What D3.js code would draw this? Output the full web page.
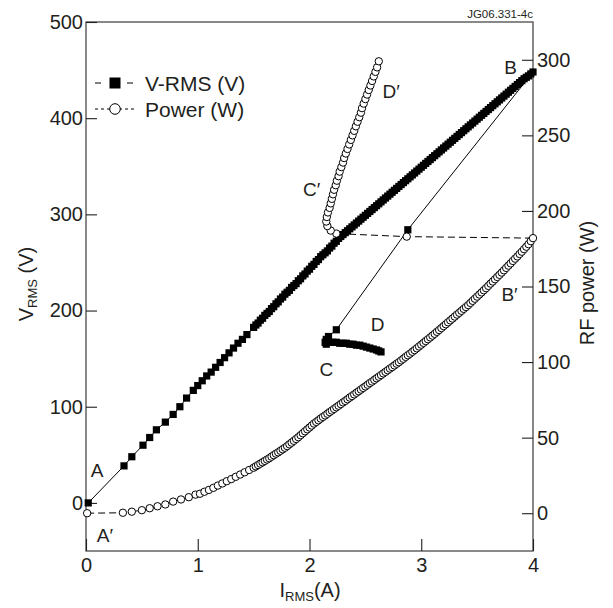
<!DOCTYPE html>
<html><head><meta charset="utf-8">
<script src="https://cdn.jsdelivr.net/npm/d3@7"></script>
<style>
html,body{margin:0;padding:0;background:#fff;}
svg text{font-family:"Liberation Sans",Arial,Helvetica,sans-serif;fill:#231f20;}
</style></head>
<body>
<svg id="chart" width="613" height="608"></svg>
<script>
// ---- data ----
// shared current grid of the densely sampled ramp (A)
const denseI = [1.50,1.52,1.54,1.56,1.58,1.60,1.62,1.64,1.66,1.68,1.70,1.72,1.74,1.76,1.78,1.80,1.82,1.84,1.86,1.88,
  1.90,1.92,1.94,1.96,1.98,2.00,2.02,2.04,2.06,2.08,2.10,2.12,2.14,2.16,2.18,2.20,2.22,2.24,2.26,2.28,
  2.30,2.32,2.34,2.36,2.38,2.40,2.42,2.44,2.46,2.48,2.50,2.52,2.54,2.56,2.58,2.60,2.62,2.64,2.66,2.68,
  2.70,2.72,2.74,2.76,2.78,2.80,2.82,2.84,2.86,2.88,2.90,2.92,2.94,2.96,2.98,3.00,3.02,3.04,3.06,3.08,
  3.10,3.12,3.14,3.16,3.18,3.20,3.22,3.24,3.26,3.28,3.30,3.32,3.34,3.36,3.38,3.40,3.42,3.44,3.46,3.48,
  3.50,3.52,3.54,3.56,3.58,3.60,3.62,3.64,3.66,3.68,3.70,3.72,3.74,3.76,3.78,3.80,3.82,3.84,3.86,3.88,
  3.90,3.92,3.94,3.96,3.98,4.00];

// V-RMS series (V), order A -> B -> C -> D
const vStartI = [0.02,0.34,0.41,0.51,0.57,0.63,0.71,0.78,0.84,0.90,0.96,1.00,1.04,1.08,1.12,1.16,1.20,1.24,1.28,1.32,1.36,1.40,1.44];
const vStartV = [0,38.5,48,60,68,76,84,92,100,109,117,122,127,132,136,141,146,151,156,161,166,170,175];
const vDenseV = [182.5,185,187,190,192,195,197,199,202,204,207,209,212,214,217,219,221,224,226,228,
  231,233,236,238,241,243,246,248,251,253,256,258,260,262,265,267,270,272,275,277,
  279,281,283,285,287,289,291,293,295,297,299,301,303,305,307,309,311,313,315,317,
  319,321,323,325,327,329,331,333,335,337,339,341,343,345,347,349,351,353,355,357,
  359,361,363,365,367,369,371,373,375,377,379,381,383,385,387,389,391,393,395,397,
  399,401,403,405,407,409,411,413,415,417,419,421,423,425,427,429,431,433,435,437,
  439,441,442.5,444,446,448];
const vEndI = [2.88,2.24,2.17,2.15,2.14,2.15,2.18,2.21,2.24,2.27,2.30,2.33,2.36,2.39,2.42,2.45,2.48,2.51,2.54,2.57,2.60,2.62,2.64];
const vEndV = [284,180,173,170,167,165,167,167,167,166,166,166,165,165,164,164,163,162,161,160,159,158,157];

// Power series (W), order A' -> B' -> C' -> D'
const pStartI = [0.01,0.33,0.41,0.50,0.57,0.64,0.71,0.78,0.85,0.92,0.98,1.02,1.06,1.10,1.14,1.18,1.22,1.26,1.30,1.34,1.38,1.42,1.46];
const pStartW = [0,0.3,1.0,2.0,3.3,4.6,5.8,7.7,9.1,10.6,12.3,12.9,14.2,15.4,16.8,18.3,19.7,21.2,22.6,24.1,25.6,27.1,28.6];
const pDenseW = [30.1,31.0,31.9,32.8,33.7,34.6,35.5,36.4,37.4,38.4,39.4,40.3,41.3,42.3,43.3,44.4,45.6,46.7,47.9,49.1,
  50.3,51.6,52.9,54.2,55.5,56.7,58.0,59.3,60.4,61.5,62.6,63.7,64.7,65.8,66.9,67.9,69.0,70.1,71.1,72.2,
  73.3,74.3,75.4,76.5,77.5,78.6,79.7,80.7,81.8,82.9,83.9,85.0,86.1,87.1,88.2,89.3,90.3,91.4,92.5,93.5,
  94.6,95.7,96.7,97.8,98.9,99.9,101.1,102.2,103.4,104.5,105.6,106.8,107.9,109.1,110.3,111.5,112.7,113.9,115.1,116.3,
  117.5,118.7,120.0,121.2,122.5,123.8,125.0,126.3,127.6,128.8,130.1,131.4,132.6,133.9,135.2,136.4,137.7,139.1,140.5,141.9,
  143.3,144.7,146.1,147.5,148.9,150.4,151.9,153.3,154.8,156.3,157.7,159.2,160.7,162.3,163.8,165.3,166.9,168.4,169.9,171.5,
  173.0,174.7,176.3,178.0,180.0,182.0];
const pEndI = [2.87,2.24,2.19,2.16,2.15,2.155,2.165,2.18,2.19,2.20,2.21,2.22,2.235,2.245,2.26,2.27,2.285,2.30,2.31,2.325,2.34,
  2.355,2.37,2.385,2.40,2.415,2.43,2.445,2.46,2.47,2.485,2.50,2.515,2.53,2.545,2.56,2.575,2.59,2.605,2.62];
const pEndW = [183,185,187,190,193,196,199,202,205,208,211,214,217,220,223,226,229,232,235,238,241,
  244,247,250,253,256,259,262,265,268,271,274,277,280,283,286,289,292,295,299];

const xTicks = [0,1,2,3,4];
const yLeftTicks = [0,100,200,300,400,500];
const yRightTicks = [0,50,100,150,200,250,300];
const seriesNames = ["V-RMS (V)", "Power (W)"];
const pointLabels = [
  {t:"A", x:0.10, v:34, axis:"L"},
  {t:"A\u2032", x:0.17, v:-14.5, axis:"R"},
  {t:"B", x:3.80, v:295, axis:"R"},
  {t:"B\u2032", x:3.79, v:145, axis:"R"},
  {t:"C", x:2.15, v:95, axis:"R"},
  {t:"D", x:2.61, v:125, axis:"R"},
  {t:"C\u2032", x:2.02, v:214, axis:"R"},
  {t:"D\u2032", x:2.73, v:279, axis:"R"}
];

// ---- layout ----
const L = 86, R = 533, T = 22, B = 551;
const svg = d3.select("#chart");
const x = d3.scaleLinear().domain([0,4]).range([L,R]);
const yL = d3.scaleLinear().domain([-50,500]).range([B,T]);
const yR = d3.scaleLinear().domain([-25,325]).range([B,T]);

svg.append("rect").attr("x",L).attr("y",T).attr("width",R-L).attr("height",B-T)
  .attr("fill","none").attr("stroke","#4a4a4a").attr("stroke-width",1.3);

function styleAxis(g){
  g.select(".domain").remove();
  g.selectAll(".tick line").attr("stroke","#231f20").attr("stroke-width",1.1);
  g.selectAll(".tick text").attr("font-size",20).attr("fill","#231f20")
   .attr("font-family","Liberation Sans, Arial, sans-serif");
}
svg.append("g").attr("transform",`translate(${L},0)`)
  .call(d3.axisLeft(yL).tickValues(yLeftTicks).tickSize(-11).tickPadding(3).tickFormat(d3.format("d")))
  .call(styleAxis);
svg.append("g").attr("transform",`translate(${R},0)`)
  .call(d3.axisRight(yR).tickValues(yRightTicks).tickSize(-11).tickPadding(4).tickFormat(d3.format("d")))
  .call(styleAxis);
svg.append("g").attr("transform",`translate(0,${B})`)
  .call(d3.axisBottom(x).tickValues(xTicks).tickSize(-12).tickPadding(7).tickFormat(d3.format("d")))
  .call(styleAxis);

const vIall = [...vStartI, ...denseI, ...vEndI];
const vVall = [...vStartV, ...vDenseV, ...vEndV];
const pIall = [...pStartI, ...denseI, ...pEndI];
const pWall = [...pStartW, ...pDenseW, ...pEndW];
const vRows = vIall.map((d,i)=>({x:d, y:vVall[i]}));
const pRows = pIall.map((d,i)=>({x:d, y:pWall[i]}));

// V-RMS line + squares
svg.append("path").datum(vRows)
  .attr("d", d3.line().x(d=>x(d.x)).y(d=>yL(d.y)))
  .attr("fill","none").attr("stroke","#000").attr("stroke-width",1);
svg.append("g").selectAll("rect").data(vRows).join("rect")
  .attr("x",d=>x(d.x)-3.6).attr("y",d=>yL(d.y)-3.6)
  .attr("width",7.2).attr("height",7.2).attr("fill","#000");

// Power line + circles
svg.append("path").datum(pRows)
  .attr("d", d3.line().x(d=>x(d.x)).y(d=>yR(d.y)))
  .attr("fill","none").attr("stroke","#000").attr("stroke-width",1)
  .attr("stroke-dasharray","7,4");
svg.append("g").selectAll("circle").data(pRows).join("circle")
  .attr("cx",d=>x(d.x)).attr("cy",d=>yR(d.y)).attr("r",3.7)
  .attr("fill","#fff").attr("stroke","#000").attr("stroke-width",1);

// point labels
svg.append("g").selectAll("text").data(pointLabels).join("text")
  .attr("x",d=>x(d.x)).attr("y",d=>(d.axis==="L"?yL(d.v):yR(d.v)))
  .attr("text-anchor","middle").attr("dominant-baseline","central")
  .attr("font-size",19).text(d=>d.t);

// legend
const lg = svg.append("g");
const rows = [83,109];
[[95,101],[127,133]].forEach(s=>lg.append("line").attr("x1",s[0]).attr("x2",s[1])
  .attr("y1",rows[0]).attr("y2",rows[0]).attr("stroke","#000").attr("stroke-width",1));
lg.append("rect").attr("x",109.5).attr("y",rows[0]-5.5).attr("width",11).attr("height",11).attr("fill","#000");
lg.append("line").attr("x1",95).attr("x2",135).attr("y1",rows[1]).attr("y2",rows[1])
  .attr("stroke","#000").attr("stroke-width",1).attr("stroke-dasharray","3,3");
lg.append("circle").attr("cx",115).attr("cy",rows[1]).attr("r",5.3)
  .attr("fill","#fff").attr("stroke","#000").attr("stroke-width",1);
lg.selectAll("text.lt").data(seriesNames).join("text").attr("class","lt")
  .attr("x",145).attr("y",(d,i)=>rows[i]).attr("dominant-baseline","central")
  .attr("font-size",21).text(d=>d);

// axis titles
const lt = svg.append("text").attr("transform","translate(33,284) rotate(-90)")
  .attr("text-anchor","middle").attr("font-size",20);
lt.append("tspan").text("V");
lt.append("tspan").attr("font-size",13).attr("dy",4).text("RMS");
lt.append("tspan").attr("dy",-4).text(" (V)");

svg.append("text").attr("transform","translate(594,283) rotate(-90)")
  .attr("text-anchor","middle").attr("font-size",20).text("RF power (W)");

const bt = svg.append("text").attr("x",310).attr("y",597)
  .attr("text-anchor","middle").attr("font-size",20);
bt.append("tspan").text("I");
bt.append("tspan").attr("font-size",13).attr("dy",4).text("RMS");
bt.append("tspan").attr("dy",-4).text("(A)");

svg.append("text").attr("x",533).attr("y",18).attr("text-anchor","end")
  .attr("font-size",11.5).text("JG06.331-4c");
</script>
</body></html>
